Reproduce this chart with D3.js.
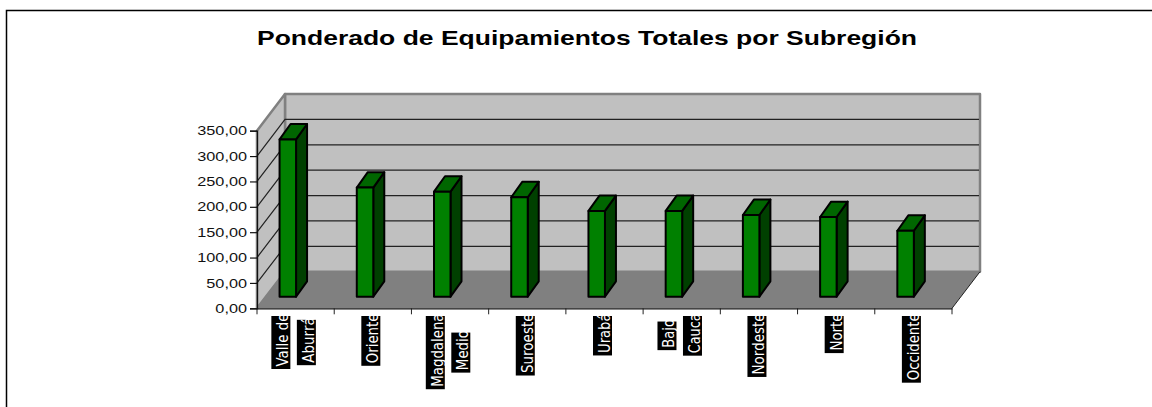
<!DOCTYPE html>
<html><head><meta charset="utf-8">
<script src="https://cdn.jsdelivr.net/npm/d3@7"></script>
<style>html,body{margin:0;padding:0;background:#fff}svg{display:block}</style>
</head><body><svg id="c" width="1152" height="407"></svg>
<script>
const titleText = "Ponderado de Equipamientos Totales por Subregión";
const categories = [["Valle de","Aburrá"],["Oriente"],["Magdalena","Medio"],["Suroeste"],["Urabá"],["Bajo","Cauca"],["Nordeste"],["Norte"],["Occidente"]];
const values = [310,215,207,196,169,169,161,157,130];
const yTicks = [0,50,100,150,200,250,300,350];

const svg = d3.select("#c");
const fmt = v => d3.format(".2f")(v).replace(".",",");
// frame: only its top and left edges fall inside the picture
svg.append("path").attr("d","M6.5,407V10.5H1152").attr("fill","none").attr("stroke","#000").attr("stroke-width",1.5);
svg.append("text").attr("x",257).attr("y",44.5)
  .attr("font-family","Liberation Sans").attr("font-weight","bold").attr("font-size",21)
  .attr("textLength",660).attr("lengthAdjust","spacingAndGlyphs").attr("fill","#000").text(titleText);

const x = d3.scaleBand().domain(categories.map(c=>c.join(" "))).range([257,952]);
const y = d3.scaleLinear().domain([0,350]).range([308.3,130.7]);
const DX=28, DY=-36.6;
const back = p=>[p[0]+DX,p[1]+DY];
const poly=(pts,fill,stroke,sw)=>svg.append("path").attr("d","M"+pts.map(p=>p.join(",")).join("L")+"Z")
  .attr("fill",fill).attr("stroke",stroke||"none").attr("stroke-width",sw||0).attr("stroke-linejoin","round");
const x0=x.range()[0],x1=x.range()[1],y0=y(0),yT=y(350);

// walls
poly([[x0+DX,yT+DY],[x1+DX,yT+DY],[x1+DX,y0+DY],[x0+DX,y0+DY]],"#c0c0c0","#808080",2.5);
poly([[x0,yT],[x0+DX,yT+DY],[x0+DX,y0+DY],[x0,y0]],"#c0c0c0","#808080",2.5);
poly([[x0,y0],[x1,y0],[x1+DX,y0+DY],[x0+DX,y0+DY]],"#808080");
// grid
yTicks.slice(1,-1).forEach(t=>{
  const p=[x0,y(t)],q=back(p);
  svg.append("path").attr("d",`M${p}L${q}L${x1+DX-1},${q[1]}`).attr("fill","none").attr("stroke","#222").attr("stroke-width",1.2);
});
svg.append("path").attr("d",`M${x1},${y0}L${x1+DX},${y0+DY}`).attr("stroke","#222").attr("stroke-width",1).attr("fill","none");
svg.append("path").attr("d",`M${x0},${y0}L${x0+DX},${y0+DY}`).attr("stroke","#808080").attr("stroke-width",1).attr("fill","none");
const axisY=svg.append("g").attr("transform",`translate(${x0},0)`)
  .call(d3.axisLeft(y).tickValues(yTicks).tickFormat(fmt).tickSize(7).tickPadding(3));
axisY.selectAll("text").attr("font-family","Liberation Sans").attr("font-size",13).attr("fill","#111")
  .each(function(){ this.setAttribute("textLength",this.getComputedTextLength()*1.25); this.setAttribute("lengthAdjust","spacingAndGlyphs"); });
axisY.selectAll("line,path").attr("stroke","#111").attr("stroke-width",1.2);
const axisX=svg.append("g").attr("transform",`translate(0,${y0})`)
  .call(d3.axisBottom(x).tickFormat("").tickSize(0));
axisX.select("path").attr("stroke","#111").attr("stroke-width",1.2);
d3.range(10).forEach(i=>{
  const tx=x0+i*x.step();
  axisX.append("line").attr("x1",tx).attr("x2",tx).attr("y1",0).attr("y2",6).attr("stroke","#222");
});

// bars
const barW=16.5, depthX=11, depthY=-15.4, floorDrop=-11.6, shift=-7.8;
categories.forEach((c,i)=>{
  const v=values[i];
  const left=x(c.join(" "))+x.bandwidth()/2+shift-barW/2, right=left+barW;
  const bottom=y0+floorDrop, top=bottom-(y(0)-y(v));
  poly([[right,top],[right+depthX,top+depthY],[right+depthX,bottom+depthY],[right,bottom]],"#004000","#000",2);
  poly([[left,top],[left+depthX,top+depthY],[right+depthX,top+depthY],[right,top]],"#006600","#000",2);
  poly([[left,top],[right,top],[right,bottom],[left,bottom]],"#008000","#000",2);
});

// category labels: black boxes, white text running upward, cut off at the box top
const probe=svg.append("text").attr("font-family","DejaVu Sans").attr("font-weight","bold").attr("font-size",12);
const len=s=>{probe.text(s);return probe.node().getComputedTextLength();};
const colGap=25.5, boxW=19, topY=316, pad=-1;
categories.forEach(c=>{
  const cx=x(c.join(" "))+x.bandwidth()/2-2;
  const lens=c.map(s=>len(s)+pad);
  const maxL=d3.max(lens);
  c.forEach((s,j)=>{
    const col=cx+(j-(c.length-1)/2)*colGap;
    const t=topY+(maxL-lens[j])/2;
    svg.append("rect").attr("x",col-boxW/2).attr("y",t).attr("width",boxW).attr("height",lens[j]).attr("fill","#000");
    const tx=col+7.5, ty=t+lens[j]-2.5;
    svg.append("text").attr("transform",`translate(${tx},${ty}) rotate(-90)`)
      .attr("font-family","DejaVu Sans").attr("font-size",15)
      .attr("textLength",lens[j]).attr("lengthAdjust","spacingAndGlyphs")
      .attr("fill","#fff").text(s);
  });
});
probe.remove();
</script></body></html>
